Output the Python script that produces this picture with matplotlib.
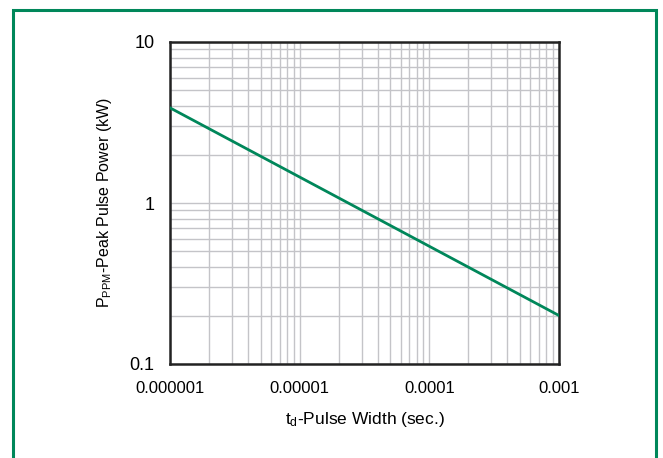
import matplotlib
matplotlib.use("Agg")
import matplotlib.pyplot as plt
from matplotlib.patches import Rectangle
from matplotlib.ticker import FixedLocator, LogLocator, NullFormatter

plt.rcParams['font.family'] = ['Liberation Sans', 'DejaVu Sans']
plt.rcParams['mathtext.fontset'] = 'custom'
plt.rcParams['mathtext.rm'] = 'Liberation Sans'
plt.rcParams['mathtext.default'] = 'regular'

# Data
pulse_width = [1e-6, 1e-3]
peak_power = [3.9, 0.2]
x_ticks = [1e-6, 1e-5, 1e-4, 1e-3]
x_tick_labels = ["0.000001", "0.00001", "0.0001", "0.001"]
y_ticks = [0.1, 1, 10]
y_tick_labels = ["0.1", "1", "10"]

fig = plt.figure(figsize=(6.63, 4.58), dpi=100)
green = "#00875a"
fig.patches.append(Rectangle((13 / 663, -0.05), (656 - 13) / 663, 1.05 - 10 / 458,
                             transform=fig.transFigure, fill=False,
                             edgecolor=green, linewidth=2.2, zorder=0))

ax = fig.add_axes([170 / 663, 1 - 364 / 458, (559 - 170) / 663, (364 - 42) / 458])
ax.set_xscale("log")
ax.set_yscale("log")
ax.set_xlim(1e-6, 1e-3)
ax.set_ylim(0.1, 10)

ax.plot(pulse_width, peak_power, color=green, linewidth=2.0, zorder=3)

ax.xaxis.set_major_locator(FixedLocator(x_ticks))
ax.set_xticklabels(x_tick_labels)
ax.yaxis.set_major_locator(FixedLocator(y_ticks))
ax.set_yticklabels(y_tick_labels)
ax.xaxis.set_minor_locator(LogLocator(base=10, subs=range(2, 10)))
ax.yaxis.set_minor_locator(LogLocator(base=10, subs=range(2, 10)))
ax.xaxis.set_minor_formatter(NullFormatter())
ax.yaxis.set_minor_formatter(NullFormatter())

ax.grid(True, which="both", color="#c4c4c8", linewidth=1.0, zorder=1)
ax.set_axisbelow(True)
ax.tick_params(which="both", length=0)
ax.tick_params(axis="x", pad=12.5, labelsize=12)
ax.tick_params(axis="y", pad=11, labelsize=13)

for s in ax.spines.values():
    s.set_linewidth(1.8)
    s.set_color("#222222")

ax.set_xlabel(r"t$_{d}$-Pulse Width (sec.)", fontsize=12.5, labelpad=10)
ax.set_ylabel(r"P$_{PPM}$-Peak Pulse Power (kW)", fontsize=11.5, labelpad=11)

fig.savefig("out.png", dpi=100)
